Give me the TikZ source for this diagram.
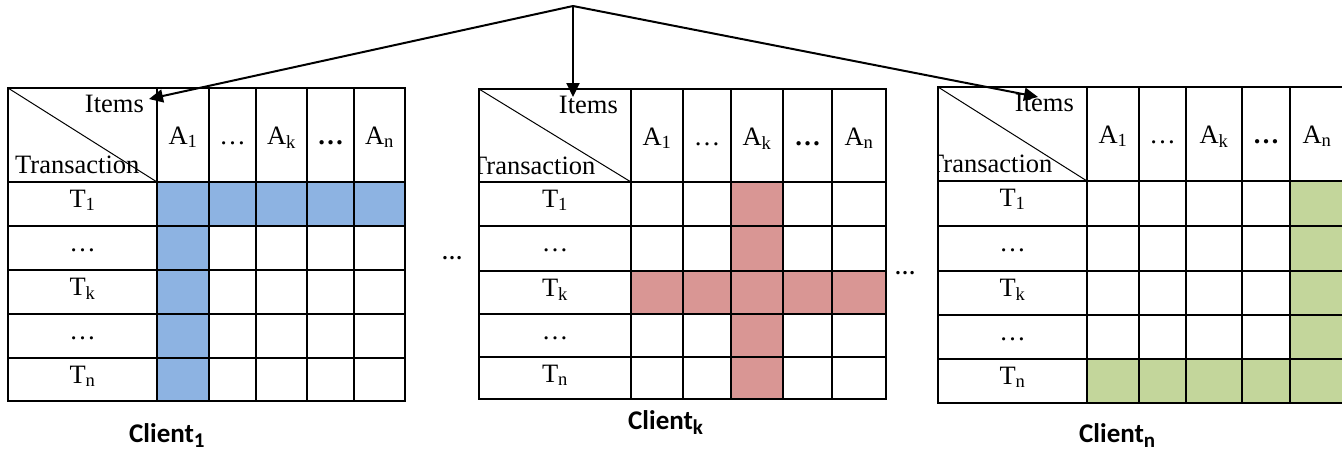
\documentclass[tikz,border=0pt]{standalone}
\usepackage{fontspec}
\setmainfont{Liberation Serif}
\newfontfamily\clientfont{Carlito}
\usetikzlibrary{arrows.meta}
\definecolor{cblue}{HTML}{8DB3E2}
\definecolor{cred}{HTML}{D99694}
\definecolor{cgreen}{HTML}{C3D69B}
\newcommand\clsub[1]{\raisebox{-5pt}{\fontsize{21}{21}\selectfont #1}}
\newcommand\mytab[5]{%
  \def\X{{#2}}\def\Y{{#3}}%
  \foreach \i in {0,...,6}{\foreach \j in {0,...,6}{%
    \pgfmathsetmacro\xx{\X[\i]}\pgfmathsetmacro\yy{\Y[\j]}%
    \coordinate (#1-\i-\j) at (\xx,\yy);}}%
  #5%
  \pgfmathsetmacro\yz{\Y[0]}%
  \pgfmathsetmacro\xz{\X[0]}%
  \pgfmathsetmacro\xo{\X[1]}%
  \pgfmathsetmacro\hy{\yz+56}%
  \foreach \t [count=\c] in {{A\textsubscript{1}},{…},{A\textsubscript{k}},{\bfseries …},{A\textsubscript{n}}}{%
    \pgfmathtruncatemacro\cn{\c+1}%
    \pgfmathsetmacro\xl{\X[\c]}%
    \pgfmathsetmacro\xr{\X[\cn]}%
    \pgfmathsetmacro\cx{(\xl+\xr)/2}%
    \node[lbl,anchor=base] (#1-a\c) at (\cx,\hy) {\t};}%
  \pgfmathsetmacro\rx{(\xz+\xo)/2}%
  \foreach \t [count=\c] in {{T\textsubscript{1}},{…},{T\textsubscript{k}},{…},{T\textsubscript{n}}}{%
    \pgfmathsetmacro\yt{\Y[\c]}%
    \pgfmathsetmacro\ry{\yt+25}%
    \node[lbl,anchor=base] (#1-t\c) at (\rx,\ry) {\t};}%
  \pgfmathsetmacro\ix{\xo-13}\pgfmathsetmacro\iy{\yz+24}%
  \node[lbl,anchor=base east] (#1-items) at (\ix,\iy) {Items};%
  \pgfmathsetmacro\tx{\xz+#4}\pgfmathsetmacro\ty{\yz+85}%
  \begin{scope}
    \clip (#1-0-0) rectangle (#1-1-1);
    \node[lbl,anchor=base west] (#1-trans) at (\tx,\ty) {Transaction};
  \end{scope}%
  \draw[gridline] (#1-0-0) rectangle (#1-6-6);%
  \foreach \i in {1,...,5}{%
    \draw[gridline] (#1-\i-0) -- (#1-\i-6);
    \draw[gridline] (#1-0-\i) -- (#1-6-\i);}%
  \draw[diag] (#1-0-0) -- (#1-1-1);%
}
\begin{document}
\begin{tikzpicture}[x=1pt,y=-1pt,
  lbl/.style={inner sep=0pt,font=\fontsize{26.5}{30}\selectfont},
  gridline/.style={line width=2pt},
  diag/.style={line width=1pt},
  arr/.style={line width=2pt,-{Triangle[length=14pt,width=13pt]}},
  client/.style={inner sep=0pt,font=\clientfont\bfseries\fontsize{27}{30}\selectfont},
  gapdots/.style={inner sep=0pt,font=\bfseries\fontsize{21}{24}\selectfont}]
\useasboundingbox[fill=white] (0,0) rectangle (1342,451);
\mytab{ta}{8,157,209,256,307,354,405}{88,182,226,270,314,358,401}{7}{%
  \fill[cblue] (ta-1-1) rectangle (ta-6-2);
  \fill[cblue] (ta-1-1) rectangle (ta-2-6);}
\mytab{tb}{479,631,683,731,783,832,886}{89,182,226,271,314,357,399}{-8}{%
  \fill[cred] (tb-3-1) rectangle (tb-4-6);
  \fill[cred] (tb-1-3) rectangle (tb-6-4);}
\mytab{tc}{938,1087,1139,1186,1242,1290,1344}{87,181,226,271,315,359,403}{-10}{%
  \fill[cgreen] (tc-5-1) rectangle (tc-6-6);
  \fill[cgreen] (tc-1-5) rectangle (tc-6-6);}
\node[gapdots] (gap1) at (452,258) {…};
\node[gapdots] (gap2) at (905,273) {…};
\coordinate (apex) at (573,6);
\coordinate (tip1) at (149,99);
\coordinate (tip2) at (573,97);
\coordinate (tip3) at (1038,97);
\draw[arr] (apex) -- (tip1);
\draw[arr] (apex) -- (tip2);
\draw[arr] (apex) -- (tip3);
\node[client,anchor=base west] (c1) at (129,442) {Client\clsub{1}};
\node[client,anchor=base west] (ck) at (628,429) {Client\clsub{k}};
\node[client,anchor=base west] (cn) at (1079,442) {Client\clsub{n}};
\end{tikzpicture}
\end{document}
